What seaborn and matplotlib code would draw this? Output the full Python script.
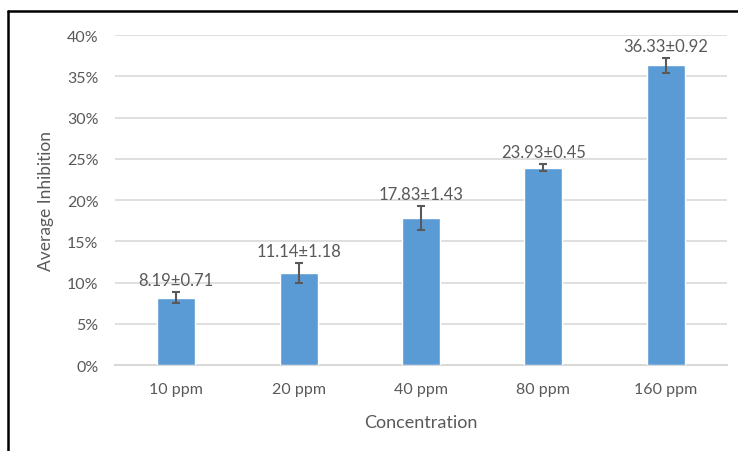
import pandas as pd
import matplotlib.pyplot as plt
import seaborn as sns
from matplotlib.lines import Line2D
from matplotlib.ticker import PercentFormatter

# data
concentrations = ['10 ppm', '20 ppm', '40 ppm', '80 ppm', '160 ppm']
inhibition = [8.19, 11.14, 17.83, 23.93, 36.33]
errors = [0.71, 1.18, 1.43, 0.45, 0.92]
y_ticks = [0, 5, 10, 15, 20, 25, 30, 35, 40]

df = pd.DataFrame({'Concentration': concentrations, 'Average Inhibition': inhibition})

sns.set_style('white')
plt.rcParams['font.family'] = ['Lato', 'DejaVu Sans']

grey = '#595959'
fig = plt.figure(figsize=(7.38, 4.52), dpi=100)
ax = fig.add_axes([0.156, 0.190, 0.829, 0.730])

sns.barplot(data=df, x='Concentration', y='Average Inhibition', color='#5B9BD5',
            saturation=1, width=0.31, errorbar=None, ax=ax, zorder=3)
ax.errorbar(range(len(inhibition)), inhibition, yerr=errors, fmt='none',
            ecolor=grey, elinewidth=1.5, capsize=3, capthick=1.5, zorder=4)

for i, (v, e) in enumerate(zip(inhibition, errors)):
    ax.annotate(f'{v:.2f}±{e:.2f}', (i, v + e), xytext=(0, 3), textcoords='offset points',
                ha='center', va='bottom', fontsize=12, color=grey)

ax.set_ylim(0, 40)
ax.set_xlim(-0.5, 4.5)
ax.set_yticks(y_ticks)
ax.yaxis.set_major_formatter(PercentFormatter(decimals=0))
ax.grid(axis='y', color='#D9D9D9', linewidth=1.2, zorder=0)
ax.set_axisbelow(True)
for s in ['top', 'right', 'left']:
    ax.spines[s].set_visible(False)
ax.spines['bottom'].set_color('#D9D9D9')
ax.spines['bottom'].set_linewidth(1.5)
ax.tick_params(axis='y', length=0, pad=12, labelsize=11.5, labelcolor=grey)
ax.tick_params(axis='x', length=0, pad=12, labelsize=11.5, labelcolor=grey)
ax.set_xlabel('Concentration', fontsize=13, color=grey, labelpad=13)
ax.set_ylabel('Average Inhibition', fontsize=12.5, color=grey, labelpad=9)

# outer frame (left and top edges visible)
fig.add_artist(Line2D([8 / 738, 8 / 738], [0, 1 - 12 / 452], transform=fig.transFigure,
                      color='black', linewidth=1.8))
fig.add_artist(Line2D([8 / 738, 1], [1 - 12 / 452, 1 - 12 / 452], transform=fig.transFigure,
                      color='black', linewidth=1.8))

fig.savefig('out.png', dpi=100)
